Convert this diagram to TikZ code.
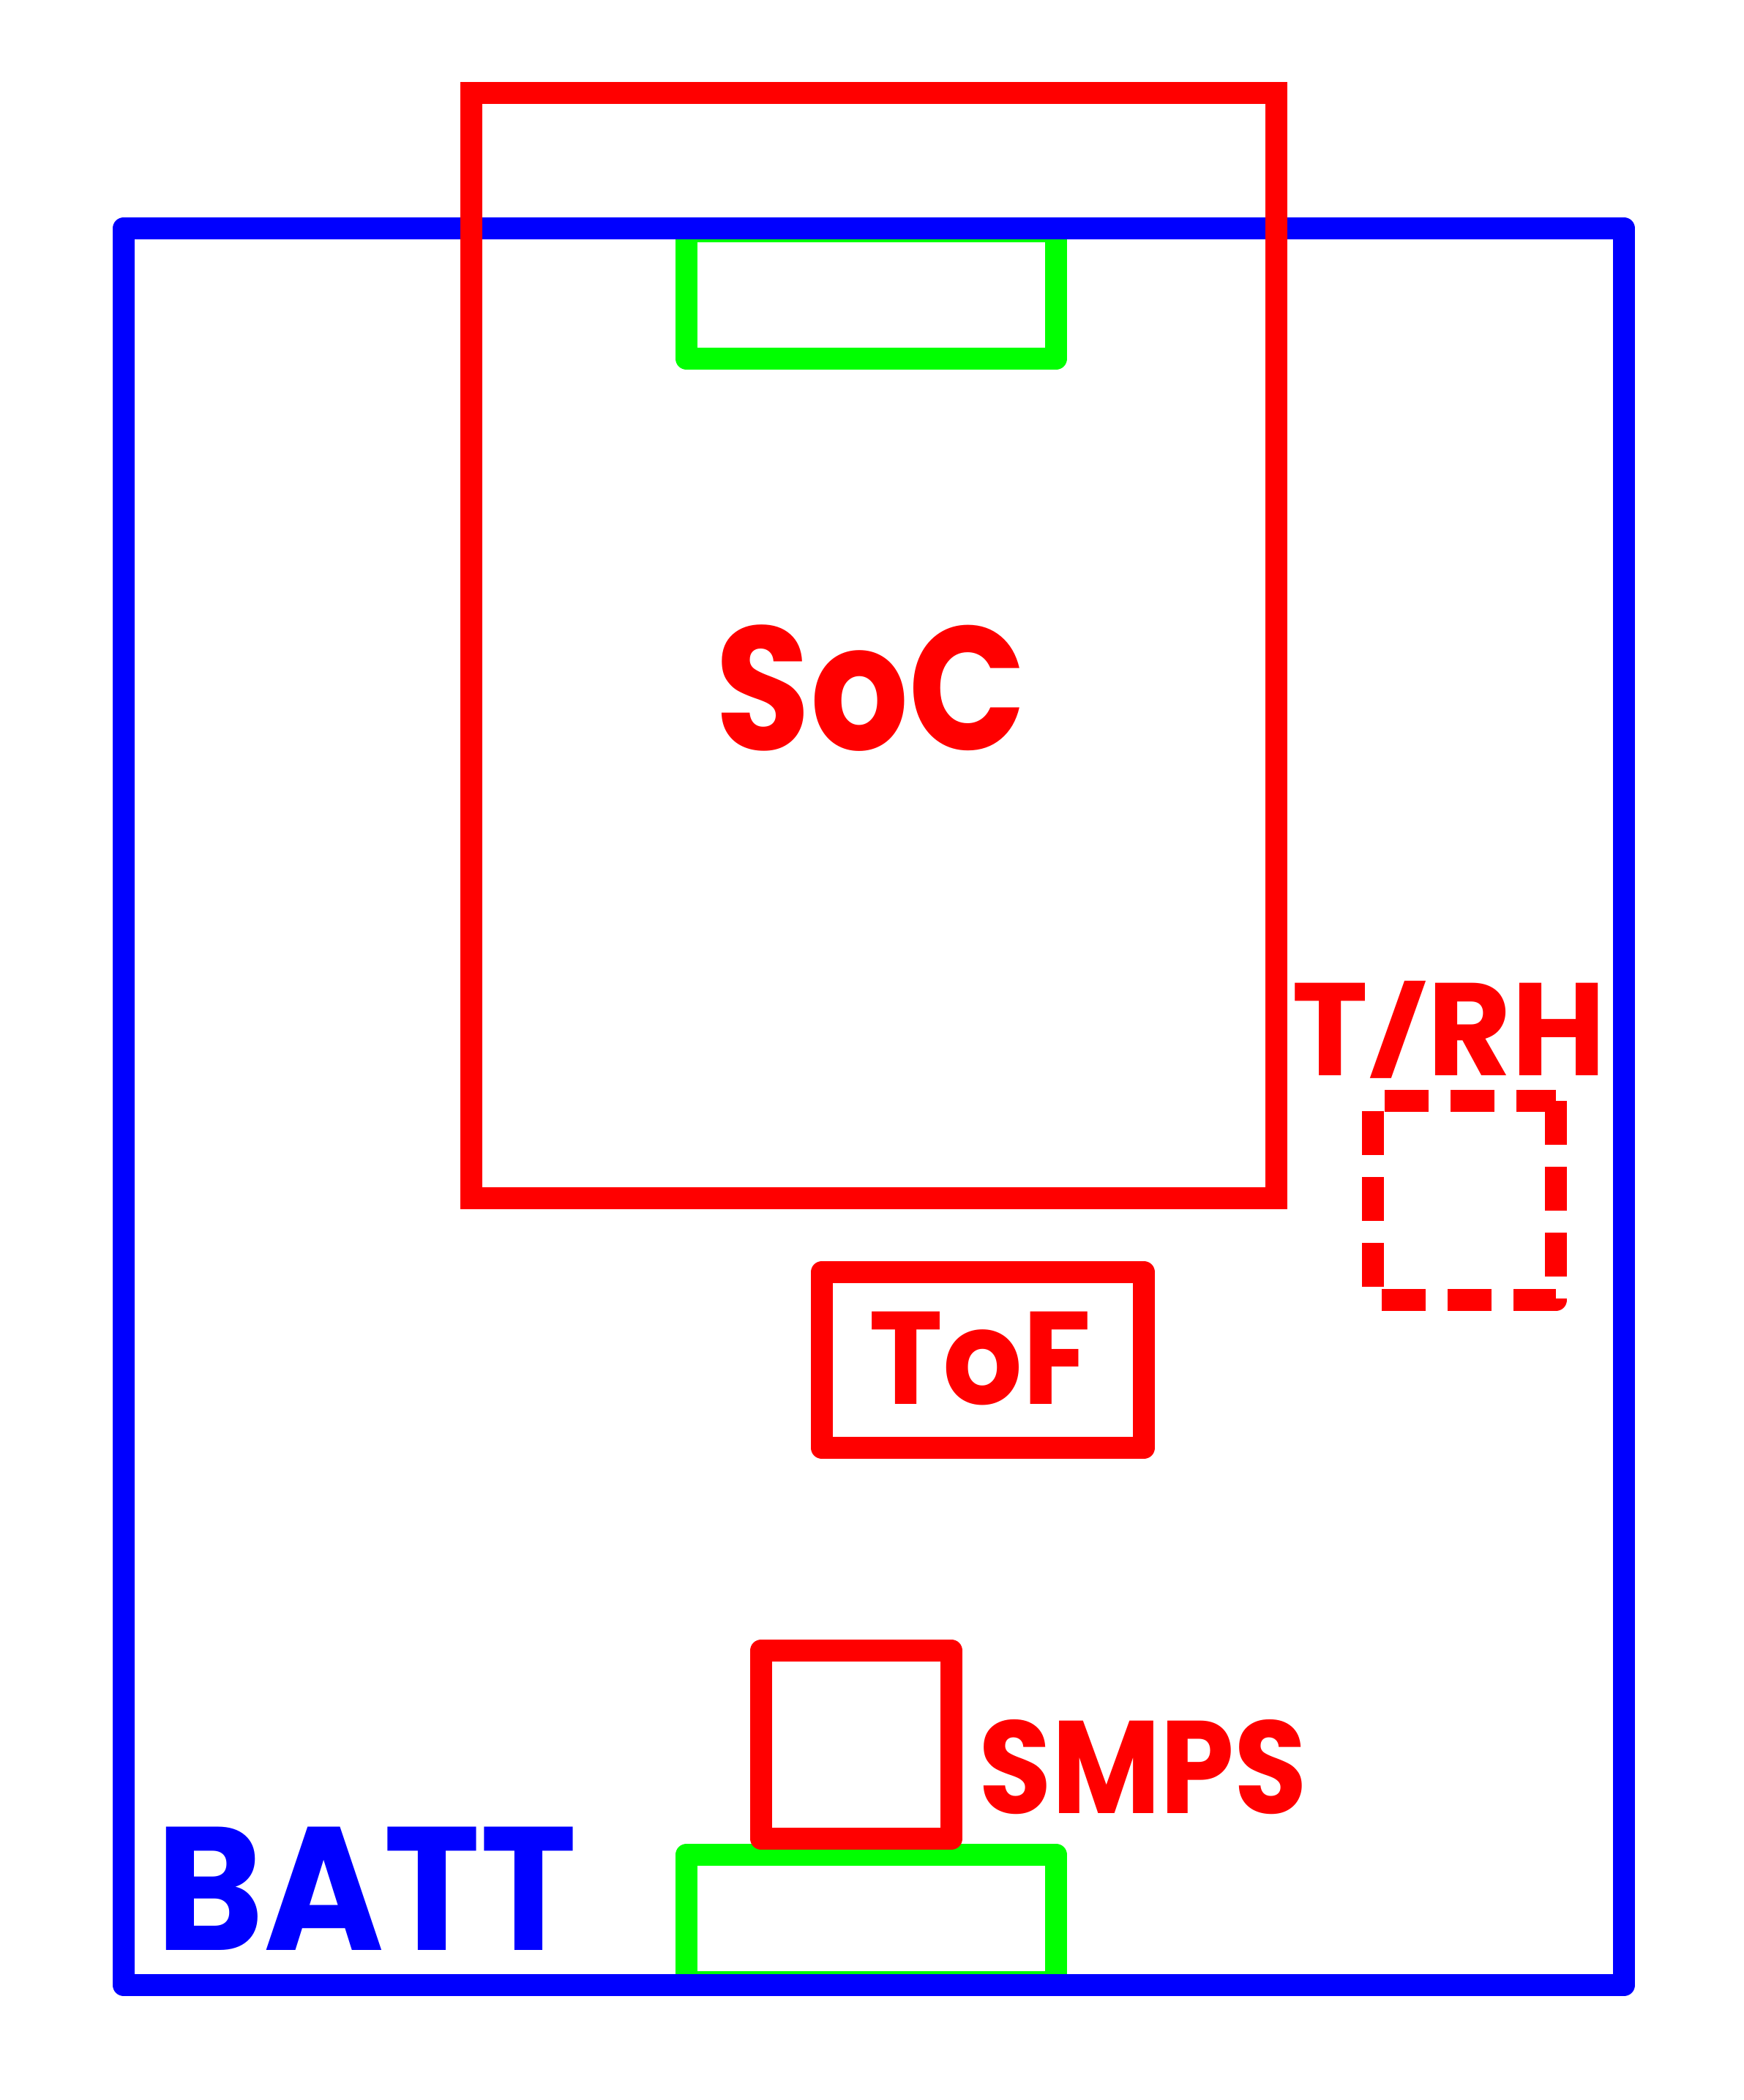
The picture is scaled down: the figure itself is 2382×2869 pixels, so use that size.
\documentclass[tikz,border=0pt]{standalone}
\usepackage{graphicx}
\usepackage{fontspec}
\setmainfont{Poppins}
\usetikzlibrary{positioning}
\definecolor{pcbblue}{RGB}{0,0,255}
\definecolor{partred}{RGB}{255,0,0}
\definecolor{padgreen}{RGB}{0,255,0}

\begin{document}
\begin{tikzpicture}[
  x=0.25pt, y=-0.25pt,
  outline/.style={draw=#1, line width=7.5pt, line join=round},
  lbl/.style={text=#1, inner sep=0pt, anchor=base},
  big/.style={font=\fontsize{60}{60}\selectfont\bfseries\addfontfeature{FakeStretch=#1}},
  small/.style={font=\fontsize{45}{45}\selectfont\bfseries\addfontfeature{FakeStretch=#1}}
]
\useasboundingbox (0,0) rectangle (2382,2869);
% connector pads
\draw[outline=padgreen] (938,316) rectangle (1443,490);
\draw[outline=padgreen] (938,2534) rectangle (1443,2708);
% board
\draw[outline=pcbblue] (169,312) rectangle (2219,2712);
% parts
\draw[outline=partred, line join=miter] (644,127) rectangle (1744,1637);
\draw[outline=partred] (1123,1738) rectangle (1563,1978);
\draw[outline=partred] (1040,2255) rectangle (1300,2512);
\draw[outline=partred, dash pattern=on 15pt off 7.5pt]
  (2126,1504) -- (2126,1776) -- (1876,1776) -- (1876,1504) -- cycle;
% labels
\node[lbl=partred, big=0.88] (soc) at (1190,1024) {SoC};
\node[lbl=partred, small=0.95] (tof) at (1339,1918) {ToF};
\node[lbl=partred, small=0.98] (trh) at (1980,1469)
  {T\raisebox{4.3pt}{\scalebox{1}[0.65]{/}}RH};
\node[lbl=partred, small=0.9] (smps) at (1562,2477) {SMPS};
\node[lbl=pcbblue, big=0.93] (batt) at (501,2664) {BATT};
\end{tikzpicture}
\end{document}
